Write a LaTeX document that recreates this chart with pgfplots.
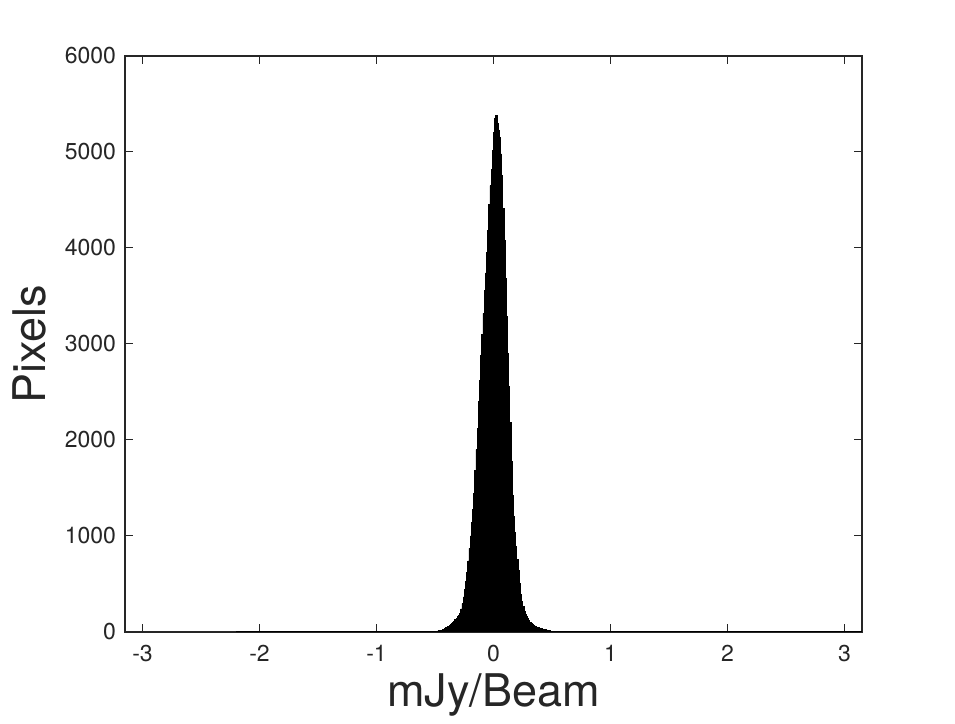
\documentclass[border=0pt]{standalone}
\usepackage{pgfplots}
\pgfplotsset{compat=1.18}
\usepackage{fontspec}
\setmainfont{TeX Gyre Heros}
\definecolor{axgray}{RGB}{38,38,38}

\begin{document}
\begin{tikzpicture}
\begin{axis}[
  scale only axis,
  width=368.5pt, height=288pt,
  xmin=-3.15, xmax=3.15,
  ymin=0, ymax=6000,
  xtick={-3,-2,-1,0,1,2,3},
  ytick={0,1000,2000,3000,4000,5000,6000},
  scaled y ticks=false,
  /pgf/number format/1000 sep={},
  /pgf/number format/assume math mode=true,
  tick align=inside,
  major tick length=4pt,
  axis line style={axgray, line width=0.6pt},
  every tick/.style={axgray, line width=0.5pt},
  tick label style={font=\fontsize{11.5}{13}\selectfont, text=axgray},
  xticklabel style={yshift=-3pt},
  yticklabel style={xshift=-1pt},
  xlabel={mJy/Beam},
  ylabel={Pixels},
  label style={font=\fontsize{22.5}{26}\selectfont, text=axgray},
  xlabel style={at={(axis description cs:0.5,-0.1302)}, anchor=base},
  ylabel style={at={(axis description cs:-0.1085,0.5)}, anchor=base},
]
% histogram of pixel values (tails binned coarsely, core in 0.01 bins)
\addplot[const plot, fill=black, draw=black, line width=0.4pt] coordinates {
  (-2.2,2) (-2.0,2) (-1.8,2) (-1.6,3) (-1.4,3) (-1.2,3) (-1.0,3) (-0.8,3)
  (-0.7,4) (-0.6,5)
  (-0.50,8) (-0.49,9) (-0.48,11) (-0.47,13) (-0.46,16) (-0.45,20)
  (-0.44,25) (-0.43,31) (-0.42,37) (-0.41,44) (-0.40,51) (-0.39,59)
  (-0.38,67) (-0.37,76) (-0.36,87) (-0.35,99) (-0.34,112) (-0.33,126)
  (-0.32,141) (-0.31,158) (-0.30,175) (-0.29,195) (-0.28,240) (-0.27,295)
  (-0.26,365) (-0.25,440) (-0.24,525) (-0.23,620) (-0.22,740) (-0.21,870)
  (-0.20,1000) (-0.19,1140) (-0.18,1280) (-0.17,1440) (-0.16,1680)
  (-0.15,1900) (-0.14,2120) (-0.13,2400) (-0.12,2620) (-0.11,2880)
  (-0.10,3100) (-0.09,3320) (-0.08,3560) (-0.07,3740) (-0.06,3950)
  (-0.05,4180) (-0.04,4450) (-0.03,4650) (-0.02,4820) (-0.01,5020)
  (0.00,5200) (0.01,5350) (0.02,5380) (0.03,5300) (0.04,5230) (0.05,5150)
  (0.06,4980) (0.07,4760) (0.08,4410) (0.09,4080) (0.10,3680) (0.11,3290)
  (0.12,2900) (0.13,2560) (0.14,2180) (0.15,1780) (0.16,1420) (0.17,1200)
  (0.18,1040) (0.19,890) (0.20,760) (0.21,640) (0.22,510) (0.23,390)
  (0.24,320) (0.25,265) (0.26,215) (0.27,185) (0.28,160) (0.29,138)
  (0.30,118) (0.31,102) (0.32,90) (0.33,80) (0.34,71) (0.35,63) (0.36,56)
  (0.37,50) (0.38,45) (0.39,41) (0.40,37) (0.41,33) (0.42,30) (0.43,27)
  (0.44,24) (0.45,21) (0.46,18) (0.47,15) (0.48,12) (0.49,10) (0.50,8)
  (0.6,5) (0.7,4) (0.8,3) (1.0,3) (1.3,3) (1.6,2) (2.0,2) (2.5,2) (3.2,2)
} \closedcycle;
\end{axis}
\path (current axis.south west) ++(-62.5pt,-41.5pt) rectangle ++(477.5pt,357.5pt);
\end{tikzpicture}
\end{document}
